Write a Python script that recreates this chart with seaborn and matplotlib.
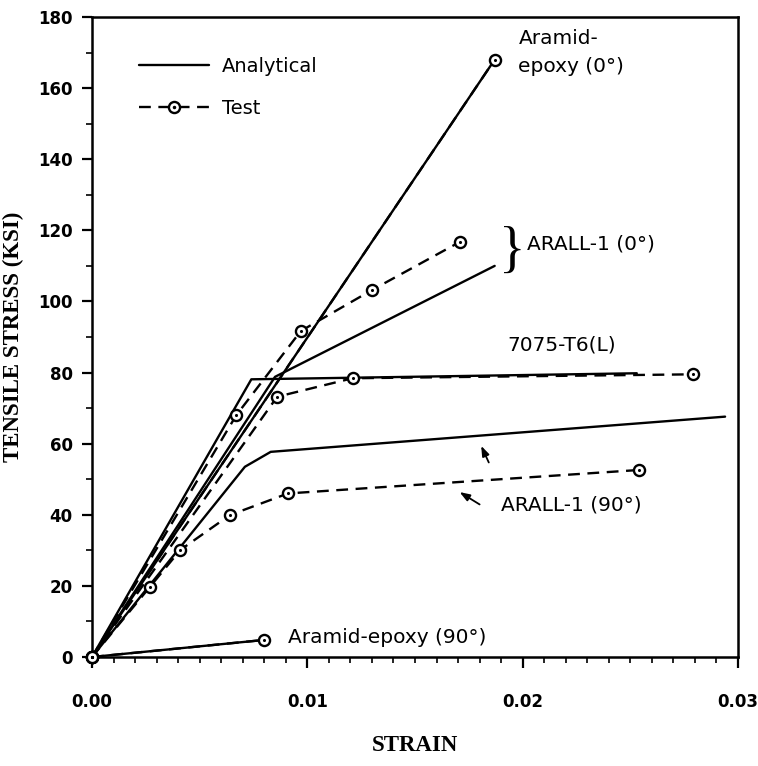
import matplotlib
matplotlib.use("Agg")
import matplotlib.pyplot as plt
import seaborn as sns
from matplotlib.lines import Line2D
from matplotlib.legend_handler import HandlerTuple
from matplotlib.ticker import MultipleLocator

# ---------------- data ----------------
aramid0_an_strain = [0.0, 0.0187]
aramid0_an_stress = [0.0, 168.0]
aramid0_test_strain = [0.0, 0.0187]
aramid0_test_stress = [0.0, 168.0]

arall0_an_strain = [0.0, 0.0085, 0.0187]
arall0_an_stress = [0.0, 78.8, 110.0]
arall0_test_strain = [0.0, 0.0067, 0.0097, 0.0130, 0.0171]
arall0_test_stress = [0.0, 68.0, 91.7, 103.2, 116.8]

t7075_an_strain = [0.0, 0.0074, 0.0253]
t7075_an_stress = [0.0, 78.1, 79.8]
t7075_test_strain = [0.0, 0.0086, 0.0121, 0.0279]
t7075_test_stress = [0.0, 73.2, 78.4, 79.5]

arall90_an_strain = [0.0, 0.0071, 0.0083, 0.0294]
arall90_an_stress = [0.0, 53.5, 57.7, 67.6]
arall90_test_strain = [0.0, 0.0027, 0.0041, 0.0064, 0.0091, 0.0254]
arall90_test_stress = [0.0, 19.8, 30.1, 39.9, 46.0, 52.6]

aramid90_an_strain = [0.0, 0.0080]
aramid90_an_stress = [0.0, 4.8]
aramid90_test_strain = [0.0, 0.0080]
aramid90_test_stress = [0.0, 4.8]

y_ticks = [0, 20, 40, 60, 80, 100, 120, 140, 160, 180]
x_ticks = [0.00, 0.01, 0.02, 0.03]
x_tick_labels = ["0.00", "0.01", "0.02", "0.03"]

analytical = [
    (aramid0_an_strain, aramid0_an_stress),
    (arall0_an_strain, arall0_an_stress),
    (t7075_an_strain, t7075_an_stress),
    (arall90_an_strain, arall90_an_stress),
    (aramid90_an_strain, aramid90_an_stress),
]
tests = [
    (aramid0_test_strain, aramid0_test_stress),
    (arall0_test_strain, arall0_test_stress),
    (t7075_test_strain, t7075_test_stress),
    (arall90_test_strain, arall90_test_stress),
    (aramid90_test_strain, aramid90_test_stress),
]

# ---------------- style ----------------
sns.set_theme(style="ticks")
plt.rcParams["font.family"] = ["DejaVu Sans"]
plt.rcParams["text.color"] = "black"
plt.rcParams["axes.labelcolor"] = "black"
plt.rcParams["xtick.color"] = "black"
plt.rcParams["ytick.color"] = "black"

fig = plt.figure(figsize=(7.58, 7.66), dpi=100)
ax = fig.add_axes([92 / 758, 109 / 766, 646 / 758, 640 / 766])

LW = 1.7
DASH = (0, (5, 3.2))
MS = 8

for xs, ys in analytical:
    sns.lineplot(x=xs, y=ys, ax=ax, color="black", linewidth=LW,
                 sort=False, estimator=None, zorder=3)

for xs, ys in tests:
    sns.lineplot(x=xs, y=ys, ax=ax, color="black", linewidth=LW,
                 linestyle=DASH, marker="o", markersize=MS,
                 markerfacecolor="white", markeredgecolor="black",
                 markeredgewidth=1.7, sort=False, estimator=None,
                 zorder=4, clip_on=False)
    sns.scatterplot(x=xs, y=ys, ax=ax, color="black", s=5,
                    linewidth=0, zorder=5, clip_on=False)

ax.set_xlim(0, 0.03)
ax.set_ylim(0, 180)

ax.set_xticks(x_ticks)
ax.set_xticklabels(x_tick_labels)
ax.xaxis.set_minor_locator(MultipleLocator(0.001))
ax.set_yticks(y_ticks)
ax.yaxis.set_minor_locator(MultipleLocator(10))

ax.tick_params(axis="x", which="major", direction="out", length=8, width=1.6,
               pad=18, labelsize=12, colors="black")
ax.tick_params(axis="x", which="minor", direction="out", length=4, width=1.2,
               colors="black")
ax.tick_params(axis="y", which="major", direction="out", length=7, width=1.6,
               pad=7, labelsize=12, colors="black")
ax.tick_params(axis="y", which="minor", direction="out", length=4, width=1.2,
               colors="black")
for lab in ax.get_xticklabels() + ax.get_yticklabels():
    lab.set_fontweight("bold")

for side in ["left", "right", "top", "bottom"]:
    ax.spines[side].set_visible(True)
    ax.spines[side].set_linewidth(1.8)
    ax.spines[side].set_color("black")
ax.grid(False)

ax.set_xlabel("STRAIN", fontsize=16.5, fontweight="bold", color="black",
              family="Liberation Serif", labelpad=17)
ax.set_ylabel("TENSILE STRESS (KSI)", fontsize=16.5, fontweight="bold",
              color="black", family="Liberation Serif", labelpad=10)

# ---------------- legend ----------------
h_an = Line2D([], [], color="black", linewidth=LW)
h_test = (Line2D([], [], color="black", linewidth=LW, linestyle=DASH,
                 marker="o", markersize=MS, markerfacecolor="white",
                 markeredgecolor="black", markeredgewidth=1.7),
          Line2D([], [], linestyle="none", marker=".", markersize=3,
                 color="black"))
leg = ax.legend([h_an, h_test], ["Analytical", "Test"], loc="upper left",
                bbox_to_anchor=(0.045, 0.965), frameon=False, fontsize=14,
                handlelength=3.6, handletextpad=0.7, labelspacing=1.2,
                handler_map={tuple: HandlerTuple(ndivide=1)})
for t in leg.get_texts():
    t.set_color("black")

# ---------------- annotations ----------------
TXT = dict(fontsize=14.5, color="black", va="center", ha="left")
ax.text(0.0198, 170, "Aramid-\nepoxy (0°)", linespacing=1.55, **TXT)
ax.text(0.0195, 113.6, "}", fontsize=40, family="Liberation Serif",
        va="center", ha="center", color="black")
ax.text(0.0202, 116.2, "ARALL-1 (0°)", **TXT)
ax.text(0.0193, 87.8, "7075-T6(L)", **TXT)
ax.text(0.0190, 42.7, "ARALL-1 (90°)", **TXT)
ax.text(0.0091, 5.6, "Aramid-epoxy (90°)", **TXT)

arrow = dict(arrowstyle="-|>,head_length=0.5,head_width=0.18",
             color="black", lw=1.3)
ax.annotate("", xy=(0.01802, 60.1), xytext=(0.01848, 54.0), arrowprops=arrow)
ax.annotate("", xy=(0.01696, 46.8), xytext=(0.01811, 42.5), arrowprops=arrow)

fig.savefig("out.png", dpi=100)
